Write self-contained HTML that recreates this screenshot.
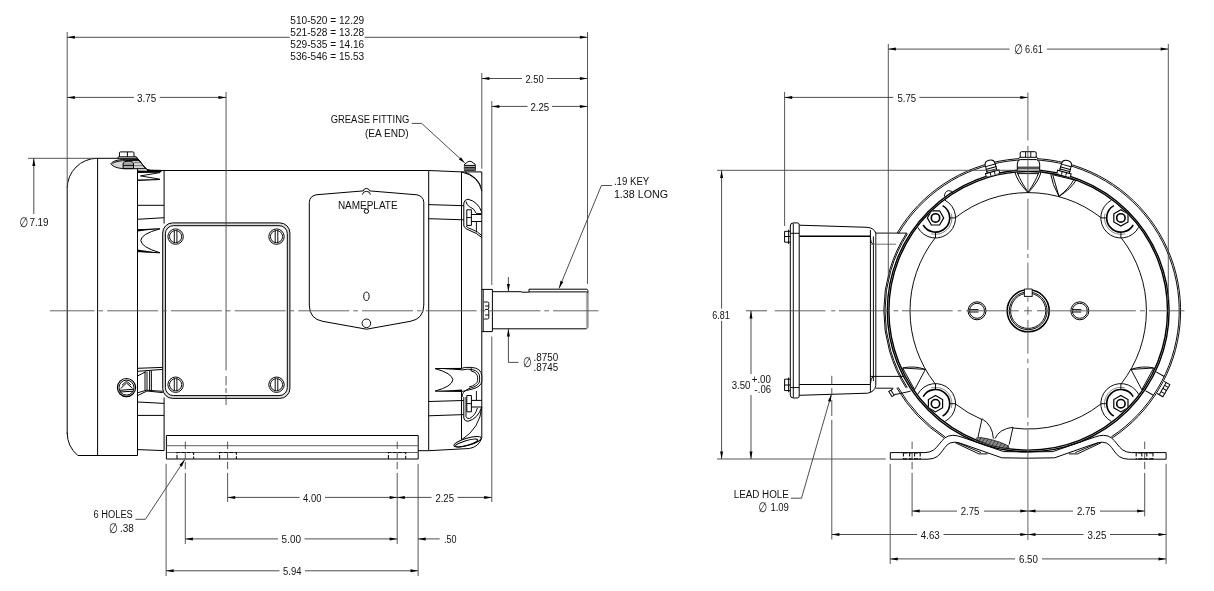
<!DOCTYPE html>
<html><head><meta charset="utf-8"><title>Motor outline drawing</title>
<style>
html,body{margin:0;padding:0;background:#fff}
svg{display:block;will-change:transform}
.o{stroke:#000;stroke-width:1;fill:none}
.ot{stroke:#000;stroke-width:1.6;fill:none}
.ol{stroke:#000;stroke-width:.95;fill:none}
.of{stroke:#000;stroke-width:1;fill:#fff}
.g{stroke:#000;stroke-width:1;fill:#999}
.k{stroke:none;fill:#000}
.d{stroke:#3a3a3a;stroke-width:.9;fill:none}
.e{stroke:#444;stroke-width:.9;fill:none}
.c{stroke:#555;stroke-width:.9;fill:none}
.h{stroke:#111;stroke-width:1.1;fill:none;stroke-dasharray:4 1.4}
.a{fill:#000;stroke:none}
text{font-family:"Liberation Sans",sans-serif;font-size:10px;fill:#111}
.dia{font-family:"DejaVu Sans","Liberation Sans",sans-serif;font-size:12.5px;font-style:italic}
</style></head><body>
<svg width="1214" height="591" viewBox="0 0 1214 591">
<rect x="0" y="0" width="1214" height="591" fill="#fff"/>
<path class="o" d="M67.2,434 L67.2,188.3 A30,30 0 0 1 97.2,158.3 L137.4,158.3"/>
<path class="o" d="M67.2,432.7 A30,30 0 0 0 77.8,455.5 L137.5,455.5"/>
<line class="o" x1="97.60" y1="158.30" x2="97.60" y2="455.50"/>
<line class="o" x1="137.50" y1="168.70" x2="137.50" y2="455.50"/>
<path class="o" d="M119.4,156.8 L119.4,153 Q119.4,151.9 120.6,151.9 L132.8,151.9 Q134,151.9 134,153 L134,156.8"/>
<line class="o" x1="127.40" y1="152.00" x2="127.40" y2="156.80"/>
<path class="o" d="M117.7,158.3 L118.6,156.8 L136.4,156.8 L137.4,158.3"/>
<path class="o" d="M137.4,158.3 L144.5,167.2 Q146.5,169.9 150,170.3 L164,170.5"/>
<path class="o" d="M110.8,163.8 C113,160.4 120,159.3 128,159.3 L138.4,159.5 L145.8,168.7 L124,168.7 C118,168.4 112.6,166.6 110.8,163.8Z" style="fill:#d6d6d6"/>
<path class="ol" d="M112.4,163.9 C114.4,161.6 120,160.6 128,160.5 L139,160.6"/>
<path class="g" d="M123.1,168.6 L123.1,164 Q123.1,161.2 128.3,161.2 Q133.5,161.2 133.5,164 L133.5,168.6 Z" style="fill:#aaa"/>
<line class="ol" x1="123.10" y1="165.40" x2="133.50" y2="165.40"/>
<path class="ol" d="M134,162.6 L141,162.6 M134,165.6 L143.4,165.6" style="stroke:#777"/>
<path class="o" d="M137.4,158.3 L144.5,167.2 Q146.5,169.9 150,170.3 L164,170.5"/>
<path class="k" d="M137.5,170.4 L162,171 L160,172.7 L137.5,173.1Z"/>
<path class="ol" d="M160,172.6 L140.5,175.9 L160,179.2"/>
<path class="k" d="M137.5,179.5 L160,178.9 L160,180.1 L137.5,181Z"/>
<line class="o" x1="137.50" y1="205.30" x2="164.00" y2="205.30"/>
<line class="o" x1="137.50" y1="219.30" x2="164.00" y2="217.70"/>
<path class="o" d="M137.5,229.8 L160,228.8 Q141,234 140.8,240.4 Q141,247 160,252.8 L137.5,251.6"/>
<path class="k" d="M137.5,229.6 L160,228.6 L137.5,231.6Z"/>
<path class="k" d="M137.5,251.8 L160,252.9 L137.5,249.6Z"/>
<path class="o" d="M137.5,368.3 L162.8,367.4"/>
<path class="o" d="M137.5,371.3 L162.8,369.4"/>
<path class="o" d="M137.5,376 Q142,373.5 146,371.7"/>
<path class="o" d="M137.5,395.6 L147,391 L162.8,392.6"/>
<path class="ol" d="M137.5,392.8 L146.5,390.2 L162.8,391.3"/>
<line class="ol" x1="145.00" y1="371.60" x2="145.00" y2="390.60"/>
<line class="ol" x1="147.00" y1="371.60" x2="147.00" y2="390.60"/>
<line class="ol" x1="149.60" y1="370.60" x2="149.60" y2="390.80"/>
<line class="ol" x1="151.40" y1="370.60" x2="151.40" y2="390.80"/>
<line class="o" x1="137.50" y1="402.00" x2="164.00" y2="403.40"/>
<line class="o" x1="137.50" y1="415.40" x2="164.00" y2="415.40"/>
<line class="o" x1="137.50" y1="449.60" x2="164.00" y2="450.60"/>
<circle class="o" cx="126.50" cy="387.60" r="9.10" style="stroke-width:1.2"/>
<circle class="o" cx="126.50" cy="387.60" r="7.50"/>
<path class="o" d="M119.3,390.4 L133.7,389.2 M119.5,392 L133.5,391.2"/>
<path class="o" d="M120.6,388.6 L126.5,383 L132.4,388.2"/>
<path class="ol" d="M122,385.2 L126.5,381.2 L131,385"/>
<line class="o" x1="164.10" y1="170.50" x2="164.10" y2="223.50"/>
<line class="o" x1="164.10" y1="397.50" x2="164.10" y2="450.60"/>
<line class="o" x1="147.00" y1="170.50" x2="428.70" y2="170.50"/>
<line class="o" x1="428.70" y1="170.50" x2="428.70" y2="450.70"/>
<path class="o" d="M172.7,222.9 L279.7,222.9 A10,10 0 0 1 289.9,233 L289.9,388.3 A10,10 0 0 1 279.7,398.4 L172.7,398.4 A10,10 0 0 1 162.7,388.3 L162.7,233 A10,10 0 0 1 172.7,222.9Z" style="fill:#ddd"/>
<path class="of" d="M173.5,225.7 L279,225.7 A8,8 0 0 1 287.3,233.7 L287.3,387.6 A8,8 0 0 1 279,395.6 L173.5,395.6 A8,8 0 0 1 165.4,387.6 L165.4,233.7 A8,8 0 0 1 173.5,225.7Z"/>
<circle class="o" cx="175.60" cy="236.60" r="7.70"/>
<circle class="ol" cx="175.60" cy="236.60" r="6.10"/>
<line class="ol" x1="174.30" y1="230.60" x2="174.30" y2="242.60"/>
<line class="ol" x1="176.90" y1="230.60" x2="176.90" y2="242.60"/>
<circle class="o" cx="276.50" cy="236.60" r="7.70"/>
<circle class="ol" cx="276.50" cy="236.60" r="6.10"/>
<line class="ol" x1="275.20" y1="230.60" x2="275.20" y2="242.60"/>
<line class="ol" x1="277.80" y1="230.60" x2="277.80" y2="242.60"/>
<circle class="o" cx="175.60" cy="384.70" r="7.70"/>
<circle class="ol" cx="175.60" cy="384.70" r="6.10"/>
<line class="ol" x1="174.30" y1="378.70" x2="174.30" y2="390.70"/>
<line class="ol" x1="176.90" y1="378.70" x2="176.90" y2="390.70"/>
<circle class="o" cx="276.50" cy="384.70" r="7.70"/>
<circle class="ol" cx="276.50" cy="384.70" r="6.10"/>
<line class="ol" x1="275.20" y1="378.70" x2="275.20" y2="390.70"/>
<line class="ol" x1="277.80" y1="378.70" x2="277.80" y2="390.70"/>
<path class="o" d="M309.3,202.5 Q309.3,196.5 316,194.8 L363.2,190.9 A3.3,3.3 0 0 1 369.6,190.9 L417,194.8 Q423.8,196.5 423.8,202.5 L423.8,305 Q423.8,319 410,321.4 L366.5,329.2 L323,321.4 Q309.3,319 309.3,305 Z"/>
<path class="ol" d="M362.3,194.6 A4.2,4.2 0 0 1 370.5,194.6"/>
<circle class="o" cx="366.40" cy="211.20" r="2.20"/>
<text x="337.9" y="209.3" textLength="59.7" lengthAdjust="spacingAndGlyphs">NAMEPLATE</text>
<ellipse class="ol" cx="366.4" cy="296.3" rx="2.7" ry="4.2"/>
<circle class="ol" cx="366.40" cy="323.30" r="4.30"/>
<path class="o" d="M428.7,170.5 L461.4,171.9 L481.8,171.9"/>
<line class="o" x1="461.50" y1="171.90" x2="461.50" y2="368.30"/>
<line class="o" x1="461.50" y1="391.60" x2="461.50" y2="439.60"/>
<path class="o" d="M481.8,171.9 L481.8,437.6"/>
<path class="o" d="M461.5,171.9 Q479,176 481.8,191"/>
<path class="ol" d="M465,171.9 Q477,177 480.6,186"/>
<path class="of" d="M464.4,170.5 L464.4,165.6 Q464.2,163.8 466,163.2 Q469.8,159.4 473.6,163.2 Q475.6,163.8 475.4,165.6 L475.4,170.5Z"/>
<path class="k" d="M464.6,165.4 L475.2,165.4 L475.2,170.3 L464.6,170.3Z" style="fill:#bdbdbd"/>
<line class="o" x1="464.40" y1="165.40" x2="475.40" y2="165.40"/>
<line class="ol" x1="464.80" y1="167.40" x2="475.00" y2="167.40"/>
<line class="ol" x1="464.80" y1="169.00" x2="475.00" y2="169.00"/>
<line class="o" x1="428.70" y1="204.60" x2="463.80" y2="205.70"/>
<line class="o" x1="428.70" y1="218.70" x2="463.80" y2="219.80"/>
<path class="o" d="M463.8,226 L463.8,203 Q464.5,199.6 468,199.2 Q478,201.5 481.8,212.3"/>
<path class="ol" d="M466,201.5 Q466.5,205 469.4,206.6 Q474.5,208.5 476.4,213.6 L481.8,213.6"/>
<path class="o" d="M463.8,226 Q465,229 470,230.6 Q477,233 481.8,237.6"/>
<path class="ol" d="M466,226 Q468,228.2 472,229.4 Q478,231.5 481.8,235.6"/>
<path class="of" d="M466.8,209.8 L471.4,209.8 L471.4,225.4 L466.8,225.4Z"/>
<line class="ol" x1="466.80" y1="217.60" x2="471.40" y2="217.60"/>
<path class="o" d="M471.4,214.5 L481.8,214.5 M471.4,221.5 L481.8,221.5"/>
<line class="ol" x1="476.40" y1="221.50" x2="476.40" y2="232.50"/>
<path class="of" d="M435.1,368.6 L461,368.4 Q465,366.9 471.2,367.4 Q481.4,368 481.8,376 L481.8,381 Q481.4,386.8 472,389.2 Q466,390.6 462.3,391.4 L435.1,391.1 Q452,386.5 452.9,379.8 Q452,373.2 435.1,368.6Z"/>
<path class="k" d="M435.1,368.4 L461.4,368.2 L461.4,370.2Z"/>
<path class="k" d="M435.1,391.3 L462,391.4 L462,389.4Z"/>
<path class="ol" d="M461.4,370 Q468,368.6 472,369.6 Q479.6,371 479.6,377 L479.6,381 Q479,386 470,388.2 Q466,389.4 463.5,392.4 Q462.2,394 462.2,397"/>
<path class="ol" d="M471.2,367.6 L471.2,371 M471.2,371 Q477.6,372.4 477.6,377.6 L477.6,380.6 Q477,385 469,387"/>
<line class="o" x1="428.70" y1="401.50" x2="463.60" y2="400.50"/>
<line class="o" x1="428.70" y1="415.80" x2="463.60" y2="414.60"/>
<path class="o" d="M463.8,397 L463.8,418 Q464.6,421.6 468,421.3 Q478,418.6 481.8,407"/>
<path class="ol" d="M466,397 L466,416.5 Q466.8,419 469.4,418.6 Q475.4,415.6 477.4,408"/>
<path class="of" d="M466.8,395.5 L471.4,395.5 L471.4,411.8 L466.8,411.8Z"/>
<line class="ol" x1="466.80" y1="403.60" x2="471.40" y2="403.60"/>
<path class="o" d="M471.4,400.4 L481.8,400.4 M471.4,407 L481.8,407"/>
<line class="ol" x1="476.40" y1="391.00" x2="476.40" y2="400.40"/>
<path class="o" d="M418.3,450.7 L428.7,450.7 L469.3,448.5 Q479,447 481.8,437.6"/>
<path class="ol" d="M481.8,407 Q480,428 462,439.5"/>
<ellipse class="o" cx="467.6" cy="441.8" rx="14.2" ry="3.6" transform="rotate(-16 467.6 441.8)"/>
<ellipse class="ol" cx="466.6" cy="443" rx="11.6" ry="2.4" transform="rotate(-16 466.6 443)"/>
<path class="o" d="M481.8,289.4 L492.4,289.4 L492.4,331.6 L481.8,331.6"/>
<line class="ol" x1="483.20" y1="289.40" x2="483.20" y2="331.60"/>
<path class="ol" d="M484,302 L487.6,302 Q488.8,302 488.8,303.4 L488.8,308 Q488.8,309.4 487.4,309.4 L485,309.4 M487.4,309.4 Q488.8,309.6 488.8,311 L488.8,317.6 Q488.8,319 487.6,319 L484,319 M485,306 L488.8,306 M485,315 L488.8,315"/>
<path class="o" d="M492.4,291.7 L521,291.7 L522,292.2 L529,292.2 M492.4,328.8 L586.6,328.8 M586.9,291.9 L529,291.9"/>
<path class="ol" d="M586.6,328.8 L587.9,327.5 L587.9,293 L586.9,291.9" style="stroke:#444"/>
<path class="o" d="M529,292 L529,289.2 L586.8,289.2 L587.9,290.2 L587.9,293"/>
<line class="ol" x1="586.40" y1="292.40" x2="586.40" y2="328.40" style="stroke:#888;stroke-width:.7"/>
<path class="o" d="M166.4,435.5 L418.2,435.5 L418.2,459 L166.4,459Z"/>
<line class="ol" x1="166.40" y1="445.70" x2="418.20" y2="445.70" style="stroke:#555"/>
<line class="ol" x1="166.40" y1="452.50" x2="418.20" y2="452.50" style="stroke:#555"/>
<path class="h" d="M177,459 L177,452.5 L193.6,452.5 L193.6,459"/>
<path class="h" d="M219.6,459 L219.6,452.5 L236.4,452.5 L236.4,459"/>
<path class="h" d="M388.4,459 L388.4,452.5 L405.7,452.5 L405.7,459"/>
<defs><clipPath id="cin"><circle cx="1028.2" cy="310.8" r="139"/></clipPath></defs>
<path class="ol" d="M897.16,232.99A152.40,152.40 0 1 1 1112.09,438.03"/>
<path class="ol" d="M944.31,438.03A152.40,152.40 0 0 1 896.75,387.92"/>
<path class="ol" d="M898.36,233.71A151.00,151.00 0 1 1 1111.32,436.86"/>
<path class="ol" d="M945.08,436.86A151.00,151.00 0 0 1 897.96,387.21"/>
<path class="ol" d="M906.28,388.17A144.40,144.40 0 0 1 906.55,233.00"/>
<path class="ol" d="M907.29,387.53A143.20,143.20 0 0 1 907.56,233.65"/>
<path class="ol" d="M935.06,383.57A118.20,118.20 0 0 1 935.06,238.03"/>
<path class="ol" d="M955.43,217.66A118.20,118.20 0 0 1 1100.97,217.66"/>
<path class="ol" d="M1121.34,238.03A118.20,118.20 0 0 1 1121.34,383.57"/>
<path class="ol" d="M1100.97,403.94A118.20,118.20 0 0 1 1012.77,427.99"/>
<path class="ol" d="M982.02,419.60A118.20,118.20 0 0 1 955.43,403.94"/>
<path class="ol" d="M944.94,200.15A20.10,20.10 0 1 1 917.75,227.34"/>
<path class="ot" d="M942.60,205.60A14.20,14.20 0 1 1 923.20,225.00"/>
<path class="ol" d="M951.34,213.66A16.40,16.40 0 0 1 931.26,233.74" style="stroke:#555;stroke-width:.7"/>
<line class="ol" x1="949.70" y1="217.90" x2="955.60" y2="217.90"/>
<line class="ol" x1="935.50" y1="232.10" x2="935.50" y2="238.00"/>
<polygon class="of" points="943.70,217.90 939.60,225.00 931.40,225.00 927.30,217.90 931.40,210.80 939.60,210.80" style="stroke-width:1.2"/>
<circle class="ot" cx="935.50" cy="217.90" r="4.20"/>
<path class="ol" d="M1138.65,227.34A20.10,20.10 0 1 1 1111.46,200.15"/>
<path class="ot" d="M1133.20,225.00A14.20,14.20 0 1 1 1113.80,205.60"/>
<path class="ol" d="M1125.14,233.74A16.40,16.40 0 0 1 1105.06,213.66" style="stroke:#555;stroke-width:.7"/>
<line class="ol" x1="1120.90" y1="232.10" x2="1120.90" y2="238.00"/>
<line class="ol" x1="1106.70" y1="217.90" x2="1100.80" y2="217.90"/>
<polygon class="of" points="1128.00,222.00 1120.90,226.10 1113.80,222.00 1113.80,213.80 1120.90,209.70 1128.00,213.80" style="stroke-width:1.2"/>
<circle class="ot" cx="1120.90" cy="217.90" r="4.20"/>
<path class="ol" d="M917.75,394.26A20.10,20.10 0 1 1 944.94,421.45"/>
<path class="ot" d="M923.20,396.60A14.20,14.20 0 1 1 942.60,416.00"/>
<path class="ol" d="M931.26,387.86A16.40,16.40 0 0 1 951.34,407.94" style="stroke:#555;stroke-width:.7"/>
<line class="ol" x1="935.50" y1="389.50" x2="935.50" y2="383.60"/>
<line class="ol" x1="949.70" y1="403.70" x2="955.60" y2="403.70"/>
<polygon class="of" points="942.60,407.80 935.50,411.90 928.40,407.80 928.40,399.60 935.50,395.50 942.60,399.60" style="stroke-width:1.2"/>
<circle class="ot" cx="935.50" cy="403.70" r="4.20"/>
<path class="ol" d="M1111.46,421.45A20.10,20.10 0 1 1 1138.65,394.26"/>
<path class="ot" d="M1113.80,416.00A14.20,14.20 0 1 1 1133.20,396.60"/>
<path class="ol" d="M1105.06,407.94A16.40,16.40 0 0 1 1125.14,387.86" style="stroke:#555;stroke-width:.7"/>
<line class="ol" x1="1106.70" y1="403.70" x2="1100.80" y2="403.70"/>
<line class="ol" x1="1120.90" y1="389.50" x2="1120.90" y2="383.60"/>
<polygon class="of" points="1128.00,407.80 1120.90,411.90 1113.80,407.80 1113.80,399.60 1120.90,395.50 1128.00,399.60" style="stroke-width:1.2"/>
<circle class="ot" cx="1120.90" cy="403.70" r="4.20"/>
<circle cx="1028.2" cy="310.8" r="140.1" style="fill:none;stroke:#fff;stroke-width:3"/>
<circle class="o" cx="1028.20" cy="310.80" r="139.30" style="stroke-width:1.4"/>
<circle class="o" cx="1028.20" cy="310.80" r="140.90" style="stroke-width:1.4"/>
<path class="of" d="M1020.2,157.3 L1020.2,153 Q1020.2,151.7 1021.6,151.7 L1034.8,151.7 Q1036.2,151.7 1036.2,153 L1036.2,157.3"/>
<line class="ol" x1="1025.60" y1="152.00" x2="1025.60" y2="157.30"/>
<line class="ol" x1="1030.80" y1="152.00" x2="1030.80" y2="157.30"/>
<path class="of" d="M1018.6,158.9 L1019.6,157.3 L1036.8,157.3 L1037.8,158.9"/>
<path class="of" d="M1017.3,170.6 L1017.3,164 Q1017.3,160.4 1020.2,159.6 L1036.4,159.6 Q1039.7,160.4 1039.7,164 L1039.7,170.6"/>
<line class="o" x1="1017.30" y1="167.20" x2="1039.70" y2="167.20"/>
<line class="ol" x1="1017.30" y1="168.80" x2="1039.70" y2="168.80"/>
<path class="o" d="M1015,172.4 Q1017,181 1028.1,192.8 Q1039,181 1040.9,172.4"/>
<path class="ol" d="M1017.4,172.8 Q1020.6,181.4 1028.1,192.2 Q1035.6,181.4 1038.6,172.8"/>
<line class="ol" x1="1017.00" y1="173.60" x2="1039.00" y2="173.60"/>
<path class="o" d="M1050.6,173.4 Q1052,184 1059,196.4 Q1071,189 1076.4,179.6"/>
<path class="ol" d="M1052.6,174.4 L1059,196.4 M1053,174.8 L1075.4,180.2 M1059,196.4 Q1069.4,188 1073.6,180"/>
<g transform="translate(991,167.6) rotate(-15.5)">
<path class="of" d="M-5,7.6 L-5,-3.4 Q-5,-7.6 0,-7.6 Q5,-7.6 5,-3.4 L5,7.6"/>
<line class="ol" x1="-5.00" y1="-2.40" x2="5.00" y2="-2.40"/>
<line class="o" x1="-5.60" y1="0.40" x2="5.60" y2="0.40"/>
<line class="ol" x1="-5.60" y1="2.60" x2="5.60" y2="2.60"/>
<path class="of" d="M-7,7.6 L-7,4.4 L7,4.4 L7,7.6"/>
<line class="ol" x1="-2.20" y1="4.40" x2="-2.20" y2="7.60"/>
<line class="ol" x1="2.20" y1="4.40" x2="2.20" y2="7.60"/>
</g>
<g transform="translate(1065.6,167.8) rotate(15.5)">
<path class="of" d="M-5,7.6 L-5,-3.4 Q-5,-7.6 0,-7.6 Q5,-7.6 5,-3.4 L5,7.6"/>
<line class="ol" x1="-5.00" y1="-2.40" x2="5.00" y2="-2.40"/>
<line class="o" x1="-5.60" y1="0.40" x2="5.60" y2="0.40"/>
<line class="ol" x1="-5.60" y1="2.60" x2="5.60" y2="2.60"/>
<path class="of" d="M-7,7.6 L-7,4.4 L7,4.4 L7,7.6"/>
<line class="ol" x1="-2.20" y1="4.40" x2="-2.20" y2="7.60"/>
<line class="ol" x1="2.20" y1="4.40" x2="2.20" y2="7.60"/>
</g>
<path class="ol" d="M944.4,196.6 Q944.6,191.4 948.6,190.6 Q952.4,190.4 953,193.6"/>
<circle class="ot" cx="1028.20" cy="310.80" r="21.00"/>
<circle class="ol" cx="1028.20" cy="310.80" r="18.90"/>
<circle class="ol" cx="1028.20" cy="310.80" r="17.60"/>
<path class="of" d="M1024.4,296.8 L1024.4,289 L1032.2,289 L1032.2,296.8" style="stroke-width:.9"/>
<line class="ol" x1="1024.40" y1="296.40" x2="1032.20" y2="296.40"/>
<circle class="o" cx="977.00" cy="310.80" r="9.00"/>
<circle class="ol" cx="977.00" cy="310.80" r="7.50"/>
<line class="ol" x1="969.80" y1="309.60" x2="978.50" y2="309.60"/>
<line class="ol" x1="969.80" y1="312.00" x2="978.50" y2="312.00"/>
<circle class="o" cx="1079.80" cy="310.80" r="9.00"/>
<circle class="ol" cx="1079.80" cy="310.80" r="7.50"/>
<line class="ol" x1="1072.60" y1="309.60" x2="1081.30" y2="309.60"/>
<line class="ol" x1="1072.60" y1="312.00" x2="1081.30" y2="312.00"/>
<path class="ol" d="M982,418.8 Q992.6,425 993.4,438.6 M982,418.8 L978,437.1"/>
<path class="ol" d="M995,438.6 Q999,429 1013,427.2 L1009.2,444.5"/>
<ellipse cx="992.6" cy="442.9" rx="17" ry="2.8" transform="rotate(15.5 992.6 442.9)" style="fill:#8a8a8a;stroke:#222;stroke-width:.8"/>
<line class="ol" x1="978.40" y1="441.60" x2="981.60" y2="437.20" style="stroke:#222;stroke-width:.8"/>
<line class="ol" x1="981.80" y1="442.55" x2="985.00" y2="438.15" style="stroke:#222;stroke-width:.8"/>
<line class="ol" x1="985.20" y1="443.50" x2="988.40" y2="439.10" style="stroke:#222;stroke-width:.8"/>
<line class="ol" x1="988.60" y1="444.45" x2="991.80" y2="440.05" style="stroke:#222;stroke-width:.8"/>
<line class="ol" x1="992.00" y1="445.40" x2="995.20" y2="441.00" style="stroke:#222;stroke-width:.8"/>
<line class="ol" x1="995.40" y1="446.35" x2="998.60" y2="441.95" style="stroke:#222;stroke-width:.8"/>
<line class="ol" x1="998.80" y1="447.30" x2="1002.00" y2="442.90" style="stroke:#222;stroke-width:.8"/>
<line class="ol" x1="1002.20" y1="448.25" x2="1005.40" y2="443.85" style="stroke:#222;stroke-width:.8"/>
<line class="ol" x1="1005.60" y1="449.20" x2="1008.80" y2="444.80" style="stroke:#222;stroke-width:.8"/>
<path class="ol" d="M1153.7,368 L1131.0,369.4 L1141.8,389.7Z"/>
<path class="ol" d="M1153.7,368 Q1142.4,365.4 1131.0,369.4"/>
<path class="ol" d="M902.7,368 L925.4,369.4 L914.6,389.7Z"/>
<path class="ol" d="M902.7,368 Q914.0,365.4 925.4,369.4"/>
<g transform="translate(1028.2,310.8) rotate(29.9)">
<path class="ol" d="M141.4,-10.8 L150.6,-10.8 M141.4,10.8 L150.6,10.8"/>
<path class="of" d="M153,-6.6 L159.6,-6.6 L159.6,7.4 L153,7.4"/>
<line class="ol" x1="155.40" y1="-3.40" x2="159.60" y2="-3.40"/>
<line class="ol" x1="155.40" y1="0.20" x2="159.60" y2="0.20"/>
<line class="ol" x1="155.40" y1="3.80" x2="159.60" y2="3.80"/>
<line class="ol" x1="155.40" y1="-6.60" x2="155.40" y2="7.40"/>
</g>
<g transform="translate(894.6,391.4) rotate(148)">
<path class="of" d="M0,-3 L5,-3 L5,3 L0,3"/>
<line class="ol" x1="2.40" y1="-3.00" x2="2.40" y2="3.00"/>
</g>
<path class="o" d="M799.2,225.2 L867,227.3 Q874.4,228 875.8,233.3 L875.8,236.4"/>
<line class="ot" x1="799.20" y1="236.30" x2="870.40" y2="236.30"/>
<line class="o" x1="799.20" y1="384.50" x2="870.40" y2="384.50"/>
<path class="o" d="M799.2,395.3 L867.6,393.2 Q874.6,392 875.8,385.6 L875.8,380"/>
<line class="o" x1="870.40" y1="230.00" x2="870.40" y2="392.00"/>
<line class="ol" x1="873.40" y1="236.40" x2="873.40" y2="381.00"/>
<line class="ol" x1="875.80" y1="236.40" x2="875.80" y2="380.00"/>
<path class="ol" d="M870.4,236.4 Q870.6,243 873,244.2 M870.4,384 Q870.8,378 873,376.6"/>
<path class="of" d="M790.3,226 Q790.3,222.9 793.4,222.9 L797.4,222.9 Q799.2,222.9 799.2,225 L799.2,396 Q799.2,398 797.4,398 L793.4,398 Q790.3,398 790.3,395Z"/>
<line class="ol" x1="793.30" y1="223.40" x2="793.30" y2="397.60"/>
<line class="ol" x1="790.30" y1="233.30" x2="799.20" y2="233.30"/>
<line class="ol" x1="790.30" y1="387.60" x2="799.20" y2="387.60"/>
<path class="o" d="M790.3,231.3 L784.6,231.3 L784.6,242.2 L790.3,242.2 M784.6,236.5 L790.3,236.5"/>
<path class="o" d="M790.3,379.2 L784.6,379.2 L784.6,390.6 L790.3,390.6 M784.6,385 L790.3,385"/>
<line class="ol" x1="788.60" y1="229.60" x2="788.60" y2="244.00"/>
<line class="ol" x1="788.60" y1="377.60" x2="788.60" y2="392.20"/>
<line class="ol" x1="875.80" y1="233.10" x2="906.80" y2="233.10"/>
<line class="ol" x1="870.40" y1="244.20" x2="896.00" y2="244.20" style="stroke:#666"/>
<line class="ol" x1="870.40" y1="376.40" x2="904.40" y2="376.40"/>
<line class="ol" x1="875.80" y1="388.20" x2="893.40" y2="388.20"/>
<line class="ol" x1="896.00" y1="394.40" x2="910.60" y2="391.20"/>
<path class="o" d="M1166.1,452.6 L1131.4,452.6 C1116.4,452.6 1117.4,435.3 1103.5,435.3 Q1099.4,435.3 1094.4,437.2 L1052.8,451.6 L1028.2,451.9"/>
<path class="o" d="M1166.1,452.6 L1166.1,459.2 L1128.4,459.2 C1112.4,459.2 1114.4,442.2 1102.2,442.2 Q1098.4,442.2 1094.4,443.8 L1054.6,457.8 L1028.2,458.2"/>
<path class="ol" d="M1101.0,442.8 L1077.5,453.9 L1068.9,453.9"/>
<path class="ol" d="M1098.4,442.8 L1075.4,452.6"/>
<path class="h" d="M1153.0,452.6 L1153.0,459.2 M1136.2,452.6 L1136.2,459.2 M1146.8,452.6 L1146.8,459.2 M1141.8,452.6 L1141.8,459.2"/>
<path class="h" d="M1153.0,452.9 L1136.2,452.9 M1153.0,458.9 L1136.2,458.9"/>
<path class="o" d="M890.3,452.6 L925.0,452.6 C940.0,452.6 939.0,435.3 952.9,435.3 Q957.0,435.3 962.0,437.2 L1003.6,451.6 L1028.2,451.9"/>
<path class="o" d="M890.3,452.6 L890.3,459.2 L928.0,459.2 C944.0,459.2 942.0,442.2 954.2,442.2 Q958.0,442.2 962.0,443.8 L1001.8,457.8 L1028.2,458.2"/>
<path class="ol" d="M955.4,442.8 L978.9,453.9 L987.5,453.9"/>
<path class="ol" d="M958.0,442.8 L981.0,452.6"/>
<path class="h" d="M903.4,452.6 L903.4,459.2 M920.2,452.6 L920.2,459.2 M909.6,452.6 L909.6,459.2 M914.6,452.6 L914.6,459.2"/>
<path class="h" d="M903.4,452.9 L920.2,452.9 M903.4,458.9 L920.2,458.9"/>
<line class="c" x1="49.90" y1="310.80" x2="598.40" y2="310.80" stroke-dasharray="51 4 4.6 4.1" stroke-dashoffset="6.4"/>
<line class="e" x1="226.05" y1="92.00" x2="226.05" y2="370.50"/>
<line class="e" x1="226.05" y1="376.00" x2="226.05" y2="385.40"/>
<line class="e" x1="226.05" y1="388.00" x2="226.05" y2="393.00"/>
<line class="e" x1="226.05" y1="396.00" x2="226.05" y2="405.00"/>
<line class="e" x1="67.20" y1="32.00" x2="67.20" y2="188.00"/>
<line class="e" x1="587.50" y1="32.00" x2="587.50" y2="284.00"/>
<line class="d" x1="67.20" y1="37.30" x2="289.60" y2="37.30"/>
<line class="d" x1="364.60" y1="37.30" x2="587.50" y2="37.30"/>
<polygon class="a" points="67.20,37.30 74.80,35.80 74.80,38.80"/>
<polygon class="a" points="587.50,37.30 579.90,38.80 579.90,35.80"/>
<text x="290.3" y="23.8" textLength="73.9" lengthAdjust="spacingAndGlyphs">510-520 = 12.29</text>
<text x="290.3" y="35.6" textLength="73.9" lengthAdjust="spacingAndGlyphs">521-528 = 13.28</text>
<text x="290.3" y="47.5" textLength="73.9" lengthAdjust="spacingAndGlyphs">529-535 = 14.16</text>
<text x="290.3" y="59.6" textLength="73.9" lengthAdjust="spacingAndGlyphs">536-546 = 15.53</text>
<line class="d" x1="67.20" y1="97.40" x2="133.80" y2="97.40"/>
<line class="d" x1="159.70" y1="97.40" x2="226.05" y2="97.40"/>
<polygon class="a" points="67.20,97.40 74.80,95.90 74.80,98.90"/>
<polygon class="a" points="226.05,97.40 218.45,98.90 218.45,95.90"/>
<text x="136.9" y="101.5" textLength="19.3" lengthAdjust="spacingAndGlyphs">3.75</text>
<line class="e" x1="481.80" y1="73.00" x2="481.80" y2="168.70"/>
<line class="d" x1="481.80" y1="78.50" x2="522.00" y2="78.50"/>
<line class="d" x1="547.00" y1="78.50" x2="587.50" y2="78.50"/>
<polygon class="a" points="481.80,78.50 489.40,77.00 489.40,80.00"/>
<polygon class="a" points="587.50,78.50 579.90,80.00 579.90,77.00"/>
<text x="525.4" y="82.6" textLength="18.2" lengthAdjust="spacingAndGlyphs">2.50</text>
<line class="e" x1="491.80" y1="101.00" x2="491.80" y2="285.00"/>
<line class="e" x1="491.80" y1="336.50" x2="491.80" y2="502.00"/>
<line class="d" x1="491.80" y1="106.40" x2="527.50" y2="106.40"/>
<line class="d" x1="552.00" y1="106.40" x2="587.50" y2="106.40"/>
<polygon class="a" points="491.80,106.40 499.40,104.90 499.40,107.90"/>
<polygon class="a" points="587.50,106.40 579.90,107.90 579.90,104.90"/>
<text x="530.4" y="110.5" textLength="18.7" lengthAdjust="spacingAndGlyphs">2.25</text>
<line class="e" x1="28.00" y1="158.30" x2="97.00" y2="158.30"/>
<line class="d" x1="33.80" y1="158.30" x2="33.80" y2="214.00"/>
<polygon class="a" points="33.80,158.30 35.30,165.90 32.30,165.90"/>
<text class="dia" transform="translate(19.6,226.5) scale(.8,1.08)">∅</text>
<text x="29.4" y="225.9" textLength="19.2" lengthAdjust="spacingAndGlyphs">7.19</text>
<text x="330.7" y="123.2" textLength="78.6" lengthAdjust="spacingAndGlyphs">GREASE FITTING</text>
<text x="364.9" y="136.7" textLength="43.8" lengthAdjust="spacingAndGlyphs">(EA END)</text>
<path class="d" d="M411.7,123.4 L421.7,123.4 L464.7,162.8"/>
<polygon class="a" points="464.70,162.80 458.83,159.59 460.99,157.23"/>
<text x="613.9" y="184.6" textLength="35.4" lengthAdjust="spacingAndGlyphs">.19 KEY</text>
<text x="613.9" y="198.2" textLength="54.2" lengthAdjust="spacingAndGlyphs">1.38 LONG</text>
<path class="d" d="M611.8,185.5 L601.4,185.5 L559,288.4"/>
<polygon class="a" points="559.00,288.40 560.51,280.80 563.28,281.94"/>
<line class="d" x1="508.40" y1="277.00" x2="508.40" y2="291.70"/>
<polygon class="a" points="508.40,291.70 506.90,284.10 509.90,284.10"/>
<path class="d" d="M508.4,328.8 L508.4,362.4 L518.5,362.4"/>
<polygon class="a" points="508.40,328.80 509.90,336.40 506.90,336.40"/>
<text class="dia" transform="translate(523.0,366.7) scale(.8,1.08)">∅</text>
<text x="533.6" y="360.6" textLength="24.7" lengthAdjust="spacingAndGlyphs">.8750</text>
<text x="533.6" y="370.8" textLength="24.7" lengthAdjust="spacingAndGlyphs">.8745</text>
<text x="93.5" y="517.9" textLength="39.3" lengthAdjust="spacingAndGlyphs">6 HOLES</text>
<text class="dia" transform="translate(109.0,532.9) scale(.8,1.08)">∅</text>
<text x="119.9" y="532.3" textLength="13.9" lengthAdjust="spacingAndGlyphs">.38</text>
<path class="d" d="M135.4,519.3 L145.4,519.3 L184.8,459.6"/>
<polygon class="a" points="184.80,459.60 181.87,466.77 179.36,465.12"/>
<line class="e" x1="166.10" y1="463.80" x2="166.10" y2="576.00"/>
<line class="e" x1="185.30" y1="441.60" x2="185.30" y2="449.00"/>
<line class="e" x1="185.30" y1="452.50" x2="185.30" y2="459.00"/>
<line class="e" x1="185.30" y1="461.80" x2="185.30" y2="469.20"/>
<line class="e" x1="185.30" y1="472.90" x2="185.30" y2="544.00"/>
<line class="e" x1="227.60" y1="441.60" x2="227.60" y2="449.00"/>
<line class="e" x1="227.60" y1="452.50" x2="227.60" y2="459.00"/>
<line class="e" x1="227.60" y1="461.80" x2="227.60" y2="469.20"/>
<line class="e" x1="227.60" y1="472.90" x2="227.60" y2="502.00"/>
<line class="e" x1="397.20" y1="441.60" x2="397.20" y2="449.00"/>
<line class="e" x1="397.20" y1="452.50" x2="397.20" y2="459.00"/>
<line class="e" x1="397.20" y1="461.80" x2="397.20" y2="469.20"/>
<line class="e" x1="397.20" y1="472.90" x2="397.20" y2="544.00"/>
<line class="e" x1="418.10" y1="463.80" x2="418.10" y2="576.00"/>
<line class="d" x1="227.60" y1="497.40" x2="299.50" y2="497.40"/>
<line class="d" x1="325.00" y1="497.40" x2="397.20" y2="497.40"/>
<polygon class="a" points="227.60,497.40 235.20,495.90 235.20,498.90"/>
<polygon class="a" points="397.20,497.40 389.60,498.90 389.60,495.90"/>
<text x="303.1" y="501.5" textLength="18.4" lengthAdjust="spacingAndGlyphs">4.00</text>
<line class="d" x1="397.20" y1="497.40" x2="431.50" y2="497.40"/>
<line class="d" x1="457.50" y1="497.40" x2="491.80" y2="497.40"/>
<polygon class="a" points="397.20,497.40 404.80,495.90 404.80,498.90"/>
<polygon class="a" points="491.80,497.40 484.20,498.90 484.20,495.90"/>
<text x="435.4" y="501.5" textLength="18.6" lengthAdjust="spacingAndGlyphs">2.25</text>
<line class="d" x1="185.30" y1="538.90" x2="278.00" y2="538.90"/>
<line class="d" x1="304.50" y1="538.90" x2="397.20" y2="538.90"/>
<polygon class="a" points="185.30,538.90 192.90,537.40 192.90,540.40"/>
<polygon class="a" points="397.20,538.90 389.60,540.40 389.60,537.40"/>
<text x="281.6" y="543.0" textLength="19.4" lengthAdjust="spacingAndGlyphs">5.00</text>
<line class="d" x1="418.10" y1="538.90" x2="439.70" y2="538.90"/>
<polygon class="a" points="418.10,538.90 425.70,537.40 425.70,540.40"/>
<text x="444.1" y="543.0" textLength="12.5" lengthAdjust="spacingAndGlyphs">.50</text>
<line class="d" x1="166.10" y1="570.80" x2="279.50" y2="570.80"/>
<line class="d" x1="305.00" y1="570.80" x2="418.10" y2="570.80"/>
<polygon class="a" points="166.10,570.80 173.70,569.30 173.70,572.30"/>
<polygon class="a" points="418.10,570.80 410.50,572.30 410.50,569.30"/>
<text x="283.1" y="574.9" textLength="18.4" lengthAdjust="spacingAndGlyphs">5.94</text>
<line class="e" x1="888.30" y1="44.00" x2="888.30" y2="279.00"/>
<line class="e" x1="1168.30" y1="44.00" x2="1168.30" y2="300.00"/>
<line class="d" x1="888.30" y1="49.10" x2="1009.50" y2="49.10"/>
<line class="d" x1="1046.90" y1="49.10" x2="1168.30" y2="49.10"/>
<polygon class="a" points="888.30,49.10 895.90,47.60 895.90,50.60"/>
<polygon class="a" points="1168.30,49.10 1160.70,50.60 1160.70,47.60"/>
<text class="dia" transform="translate(1014.2,53.9) scale(.8,1.08)">∅</text>
<text x="1025.1" y="53.3" textLength="17.8" lengthAdjust="spacingAndGlyphs">6.61</text>
<line class="e" x1="784.60" y1="92.00" x2="784.60" y2="226.00"/>
<line class="d" x1="784.60" y1="97.40" x2="893.30" y2="97.40"/>
<line class="d" x1="919.30" y1="97.40" x2="1027.90" y2="97.40"/>
<polygon class="a" points="784.60,97.40 792.20,95.90 792.20,98.90"/>
<polygon class="a" points="1027.90,97.40 1020.30,98.90 1020.30,95.90"/>
<text x="897.4" y="101.5" textLength="18.7" lengthAdjust="spacingAndGlyphs">5.75</text>
<line class="e" x1="717.00" y1="170.30" x2="1017.40" y2="170.30"/>
<line class="e" x1="717.00" y1="459.00" x2="885.70" y2="459.00"/>
<line class="d" x1="721.60" y1="170.30" x2="721.60" y2="308.60"/>
<line class="d" x1="721.60" y1="320.80" x2="721.60" y2="459.00"/>
<polygon class="a" points="721.60,170.30 723.10,177.90 720.10,177.90"/>
<polygon class="a" points="721.60,459.00 720.10,451.40 723.10,451.40"/>
<text x="712.2" y="318.9" textLength="17.6" lengthAdjust="spacingAndGlyphs">6.81</text>
<line class="e" x1="746.00" y1="310.80" x2="767.00" y2="310.80"/>
<line class="d" x1="751.00" y1="310.80" x2="751.00" y2="374.00"/>
<line class="d" x1="751.00" y1="395.00" x2="751.00" y2="459.00"/>
<polygon class="a" points="751.00,310.80 752.50,318.40 749.50,318.40"/>
<polygon class="a" points="751.00,459.00 749.50,451.40 752.50,451.40"/>
<text x="731.7" y="388.7" textLength="18.7" lengthAdjust="spacingAndGlyphs">3.50</text>
<text x="751.7" y="383.4" textLength="19.3" lengthAdjust="spacingAndGlyphs">+.00</text>
<text x="754.6" y="393.3" textLength="16.4" lengthAdjust="spacingAndGlyphs">-.06</text>
<line class="c" x1="774.80" y1="310.80" x2="825.50" y2="310.80"/>
<line class="c" x1="831.20" y1="310.80" x2="835.40" y2="310.80"/>
<line class="c" x1="839.00" y1="310.80" x2="889.70" y2="310.80"/>
<line class="c" x1="893.40" y1="310.80" x2="898.40" y2="310.80"/>
<line class="c" x1="902.00" y1="310.80" x2="952.70" y2="310.80"/>
<line class="c" x1="957.70" y1="310.80" x2="961.40" y2="310.80"/>
<line class="c" x1="966.30" y1="310.80" x2="1018.80" y2="310.80"/>
<line class="c" x1="1024.00" y1="310.80" x2="1032.10" y2="310.80"/>
<line class="c" x1="1037.00" y1="310.80" x2="1135.90" y2="310.80"/>
<line class="c" x1="1140.00" y1="310.80" x2="1145.00" y2="310.80"/>
<line class="c" x1="1149.00" y1="310.80" x2="1184.50" y2="310.80"/>
<line class="c" x1="1027.90" y1="92.50" x2="1027.90" y2="140.40"/>
<line class="c" x1="1027.90" y1="145.90" x2="1027.90" y2="191.60"/>
<line class="c" x1="1027.90" y1="198.70" x2="1027.90" y2="249.80"/>
<line class="c" x1="1027.90" y1="253.90" x2="1027.90" y2="258.00"/>
<line class="c" x1="1027.90" y1="262.60" x2="1027.90" y2="289.00"/>
<line class="c" x1="1027.90" y1="297.40" x2="1027.90" y2="301.80"/>
<line class="c" x1="1027.90" y1="306.70" x2="1027.90" y2="314.90"/>
<line class="c" x1="1027.90" y1="319.80" x2="1027.90" y2="353.70"/>
<line class="c" x1="1027.90" y1="358.70" x2="1027.90" y2="363.20"/>
<line class="c" x1="1027.90" y1="367.90" x2="1027.90" y2="417.60"/>
<line class="c" x1="1027.90" y1="422.00" x2="1027.90" y2="425.70"/>
<line class="c" x1="1027.90" y1="429.80" x2="1027.90" y2="539.90"/>
<text x="733.7" y="497.9" textLength="55.2" lengthAdjust="spacingAndGlyphs">LEAD HOLE</text>
<text class="dia" transform="translate(758.6,511.9) scale(.8,1.08)">∅</text>
<text x="770.4" y="511.3" textLength="18.5" lengthAdjust="spacingAndGlyphs">1.09</text>
<path class="d" d="M790.9,498.2 L801.5,498.2 L831.5,394"/>
<polygon class="a" points="831.50,394.00 830.84,401.72 827.96,400.89"/>
<line class="e" x1="831.80" y1="375.80" x2="831.80" y2="384.20"/>
<line class="e" x1="831.80" y1="388.10" x2="831.80" y2="394.50"/>
<line class="e" x1="831.80" y1="400.00" x2="831.80" y2="416.00"/>
<line class="e" x1="831.80" y1="420.00" x2="831.80" y2="539.50"/>
<line class="e" x1="890.20" y1="463.80" x2="890.20" y2="564.00"/>
<line class="e" x1="1166.10" y1="463.80" x2="1166.10" y2="564.00"/>
<line class="e" x1="912.10" y1="441.60" x2="912.10" y2="449.00"/>
<line class="e" x1="912.10" y1="452.50" x2="912.10" y2="459.00"/>
<line class="e" x1="912.10" y1="461.80" x2="912.10" y2="469.20"/>
<line class="e" x1="912.10" y1="472.90" x2="912.10" y2="516.40"/>
<line class="e" x1="1144.70" y1="441.60" x2="1144.70" y2="449.00"/>
<line class="e" x1="1144.70" y1="452.50" x2="1144.70" y2="459.00"/>
<line class="e" x1="1144.70" y1="461.80" x2="1144.70" y2="469.20"/>
<line class="e" x1="1144.70" y1="472.90" x2="1144.70" y2="516.40"/>
<line class="d" x1="912.10" y1="511.10" x2="957.00" y2="511.10"/>
<line class="d" x1="984.00" y1="511.10" x2="1027.90" y2="511.10"/>
<polygon class="a" points="912.10,511.10 919.70,509.60 919.70,512.60"/>
<polygon class="a" points="1027.90,511.10 1020.30,512.60 1020.30,509.60"/>
<text x="960.7" y="515.2" textLength="18.7" lengthAdjust="spacingAndGlyphs">2.75</text>
<line class="d" x1="1027.90" y1="511.10" x2="1073.00" y2="511.10"/>
<line class="d" x1="1100.00" y1="511.10" x2="1144.70" y2="511.10"/>
<polygon class="a" points="1027.90,511.10 1035.50,509.60 1035.50,512.60"/>
<polygon class="a" points="1144.70,511.10 1137.10,512.60 1137.10,509.60"/>
<text x="1076.9" y="515.2" textLength="18.7" lengthAdjust="spacingAndGlyphs">2.75</text>
<line class="d" x1="831.80" y1="534.50" x2="917.00" y2="534.50"/>
<line class="d" x1="943.50" y1="534.50" x2="1027.90" y2="534.50"/>
<polygon class="a" points="831.80,534.50 839.40,533.00 839.40,536.00"/>
<polygon class="a" points="1027.90,534.50 1020.30,536.00 1020.30,533.00"/>
<text x="920.8" y="538.6" textLength="18.9" lengthAdjust="spacingAndGlyphs">4.63</text>
<line class="d" x1="1027.90" y1="534.50" x2="1083.50" y2="534.50"/>
<line class="d" x1="1110.00" y1="534.50" x2="1166.10" y2="534.50"/>
<polygon class="a" points="1027.90,534.50 1035.50,533.00 1035.50,536.00"/>
<polygon class="a" points="1166.10,534.50 1158.50,536.00 1158.50,533.00"/>
<text x="1087.5" y="538.6" textLength="18.9" lengthAdjust="spacingAndGlyphs">3.25</text>
<line class="d" x1="890.20" y1="558.90" x2="1015.00" y2="558.90"/>
<line class="d" x1="1042.00" y1="558.90" x2="1166.10" y2="558.90"/>
<polygon class="a" points="890.20,558.90 897.80,557.40 897.80,560.40"/>
<polygon class="a" points="1166.10,558.90 1158.50,560.40 1158.50,557.40"/>
<text x="1019.0" y="563.0" textLength="18.9" lengthAdjust="spacingAndGlyphs">6.50</text>
</svg>
</body></html>
